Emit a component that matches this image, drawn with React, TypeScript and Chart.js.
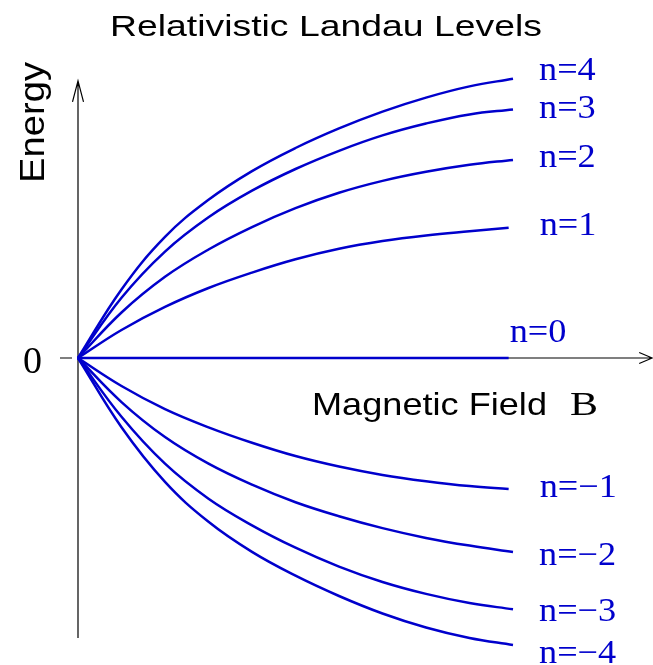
import React, { useEffect, useRef } from "react";
import { Chart, registerables } from "chart.js";

Chart.register(...registerables);

// Magnetic field sample points (arbitrary units)
const FIELD = [0, 1, 2, 3, 4, 5, 6, 7, 8, 9, 10];
const FIELD_SHORT = [0, 1, 2, 3, 4, 5, 6, 7, 8, 9, 9.9];

// Energy of each Landau level along the field axis
const LEVEL_P4 = [0, 0.98, 1.73, 2.26, 2.67, 3.0, 3.28, 3.52, 3.72, 3.88, 3.99];
const LEVEL_P3 = [0, 0.86, 1.52, 2.01, 2.39, 2.7, 2.96, 3.18, 3.35, 3.48, 3.55];
const LEVEL_P2 = [0, 0.65, 1.16, 1.55, 1.87, 2.14, 2.36, 2.53, 2.66, 2.76, 2.83];
const LEVEL_P1 = [0, 0.4, 0.73, 1.0, 1.22, 1.41, 1.56, 1.67, 1.75, 1.81, 1.86];
const LEVEL_0 = [0, 0, 0, 0, 0, 0, 0, 0, 0, 0, 0];
const LEVEL_M1 = [0, -0.4, -0.73, -0.99, -1.21, -1.4, -1.55, -1.67, -1.76, -1.83, -1.87];
const LEVEL_M2 = [0, -0.63, -1.13, -1.51, -1.81, -2.06, -2.26, -2.43, -2.57, -2.68, -2.77];
const LEVEL_M3 = [0, -0.84, -1.51, -2.01, -2.39, -2.71, -2.98, -3.2, -3.37, -3.5, -3.59];
const LEVEL_M4 = [0, -0.99, -1.77, -2.34, -2.77, -3.11, -3.4, -3.65, -3.85, -4.0, -4.1];

const LEVEL_NAMES = ["n=4", "n=3", "n=2", "n=1", "n=0", "n=\u22121", "n=\u22122", "n=\u22123", "n=\u22124"];

const LEVELS = [
  { name: LEVEL_NAMES[0], field: FIELD, energy: LEVEL_P4 },
  { name: LEVEL_NAMES[1], field: FIELD, energy: LEVEL_P3 },
  { name: LEVEL_NAMES[2], field: FIELD, energy: LEVEL_P2 },
  { name: LEVEL_NAMES[3], field: FIELD_SHORT, energy: LEVEL_P1 },
  { name: LEVEL_NAMES[4], field: FIELD_SHORT, energy: LEVEL_0 },
  { name: LEVEL_NAMES[5], field: FIELD_SHORT, energy: LEVEL_M1 },
  { name: LEVEL_NAMES[6], field: FIELD, energy: LEVEL_M2 },
  { name: LEVEL_NAMES[7], field: FIELD, energy: LEVEL_M3 },
  { name: LEVEL_NAMES[8], field: FIELD, energy: LEVEL_M4 },
];

const BLUE = "#0000cc";
const SANS = "'Liberation Sans', Arial, sans-serif";
const SERIF = "'Liberation Serif', 'Times New Roman', serif";

// label placement: gap after the curve end, baseline offset from the curve end
const LABEL_PLACE = [
  { dx: 26, dy: 1 },
  { dx: 26, dy: 8 },
  { dx: 26, dy: 7 },
  { dx: 31, dy: 7 },
  { dx: 1, dy: -16 },
  { dx: 31, dy: 8 },
  { dx: 26, dy: 13 },
  { dx: 26, dy: 12 },
  { dx: 26, dy: 18 },
];

// draw text horizontally stretched to a given width (or by a factor)
function drawStretched(
  ctx: CanvasRenderingContext2D,
  text: string,
  x: number,
  y: number,
  font: string,
  opts: { width?: number; scale?: number; rotate?: number }
) {
  ctx.save();
  ctx.font = font;
  const w = ctx.measureText(text).width;
  const s = opts.width ? opts.width / w : opts.scale ?? 1;
  ctx.translate(x, y);
  if (opts.rotate) ctx.rotate(opts.rotate);
  ctx.scale(s, 1);
  ctx.textAlign = "left";
  ctx.textBaseline = "alphabetic";
  ctx.fillText(text, 0, 0);
  ctx.restore();
}

const landauDecor = {
  id: "landauDecor",
  beforeDatasetsDraw(chart: any) {
    const { ctx } = chart;
    const xs = chart.scales.x;
    const ys = chart.scales.y;
    const x0 = xs.getPixelForValue(0);
    const y0 = ys.getPixelForValue(0);
    const yTop = ys.getPixelForValue(3.96);
    const yBot = ys.getPixelForValue(-4);
    const xRight = xs.getPixelForValue(13.2);
    ctx.save();
    ctx.strokeStyle = "#000";
    ctx.lineWidth = 1.2;
    ctx.beginPath();
    // energy axis with open arrow head
    ctx.moveTo(x0, yBot);
    ctx.lineTo(x0, yTop);
    ctx.moveTo(x0 - 5.5, yTop + 21);
    ctx.lineTo(x0, yTop);
    ctx.lineTo(x0 + 5.5, yTop + 21);
    // field axis with open arrow head
    ctx.moveTo(x0, y0);
    ctx.lineTo(xRight, y0);
    ctx.moveTo(xRight - 13, y0 - 5.5);
    ctx.lineTo(xRight, y0);
    ctx.lineTo(xRight - 13, y0 + 5.5);
    // zero tick
    ctx.moveTo(x0 - 18, y0);
    ctx.lineTo(x0 - 6, y0);
    ctx.stroke();
    ctx.restore();
  },
  afterDatasetsDraw(chart: any) {
    const { ctx } = chart;
    const xs = chart.scales.x;
    const ys = chart.scales.y;
    const x0 = xs.getPixelForValue(0);
    const y0 = ys.getPixelForValue(0);
    ctx.save();
    ctx.fillStyle = "#000";
    drawStretched(ctx, "Relativistic Landau Levels", 110, 36, `30px ${SANS}`, { width: 432 });
    drawStretched(ctx, "Energy", 44, 183, `35px ${SANS}`, { width: 121, rotate: -Math.PI / 2 });
    drawStretched(ctx, "Magnetic Field", 312, 415, `32px ${SANS}`, { width: 235 });
    drawStretched(ctx, "B", 570, 415, `33px ${SERIF}`, { width: 28 });
    drawStretched(ctx, "0", x0 - 55, y0 + 15, `38px ${SERIF}`, { scale: 1 });

    ctx.fillStyle = BLUE;
    LEVELS.forEach((lv, i) => {
      const last = lv.energy.length - 1;
      const px = xs.getPixelForValue(lv.field[last]);
      const py = ys.getPixelForValue(lv.energy[last]);
      const p = LABEL_PLACE[i];
      drawStretched(ctx, lv.name, px + p.dx, py + p.dy, `33px ${SERIF}`, { scale: 1.1 });
    });
    ctx.restore();
  },
};

export default function App() {
  const canvasRef = useRef<HTMLCanvasElement | null>(null);

  useEffect(() => {
    const canvas = canvasRef.current;
    if (!canvas) return;
    const chart = new Chart(canvas, {
      type: "line",
      data: {
        datasets: LEVELS.map((lv) => ({
          label: lv.name,
          data: lv.field.map((b, k) => ({ x: b, y: lv.energy[k] })),
          borderColor: BLUE,
          backgroundColor: BLUE,
          borderWidth: 2.5,
          pointRadius: 0,
          tension: 0.4,
          fill: false,
          clip: false as any,
        })),
      },
      options: {
        responsive: false,
        animation: false,
        devicePixelRatio: 1,
        layout: { padding: { left: 78, right: 140, top: 78, bottom: 27 } },
        plugins: {
          legend: { display: false },
          tooltip: { enabled: false },
          title: { display: false },
        },
        scales: {
          x: { type: "linear", min: 0, max: 10, display: false },
          y: { type: "linear", min: -4, max: 4, display: false },
        },
        events: [],
      },
      plugins: [landauDecor],
    });
    return () => chart.destroy();
  }, []);

  return (
    <div style={{ position: "absolute", left: 0, top: 0, width: 653, height: 665, background: "#fff" }}>
      <canvas ref={canvasRef} width={653} height={665} style={{ display: "block" }} />
    </div>
  );
}
